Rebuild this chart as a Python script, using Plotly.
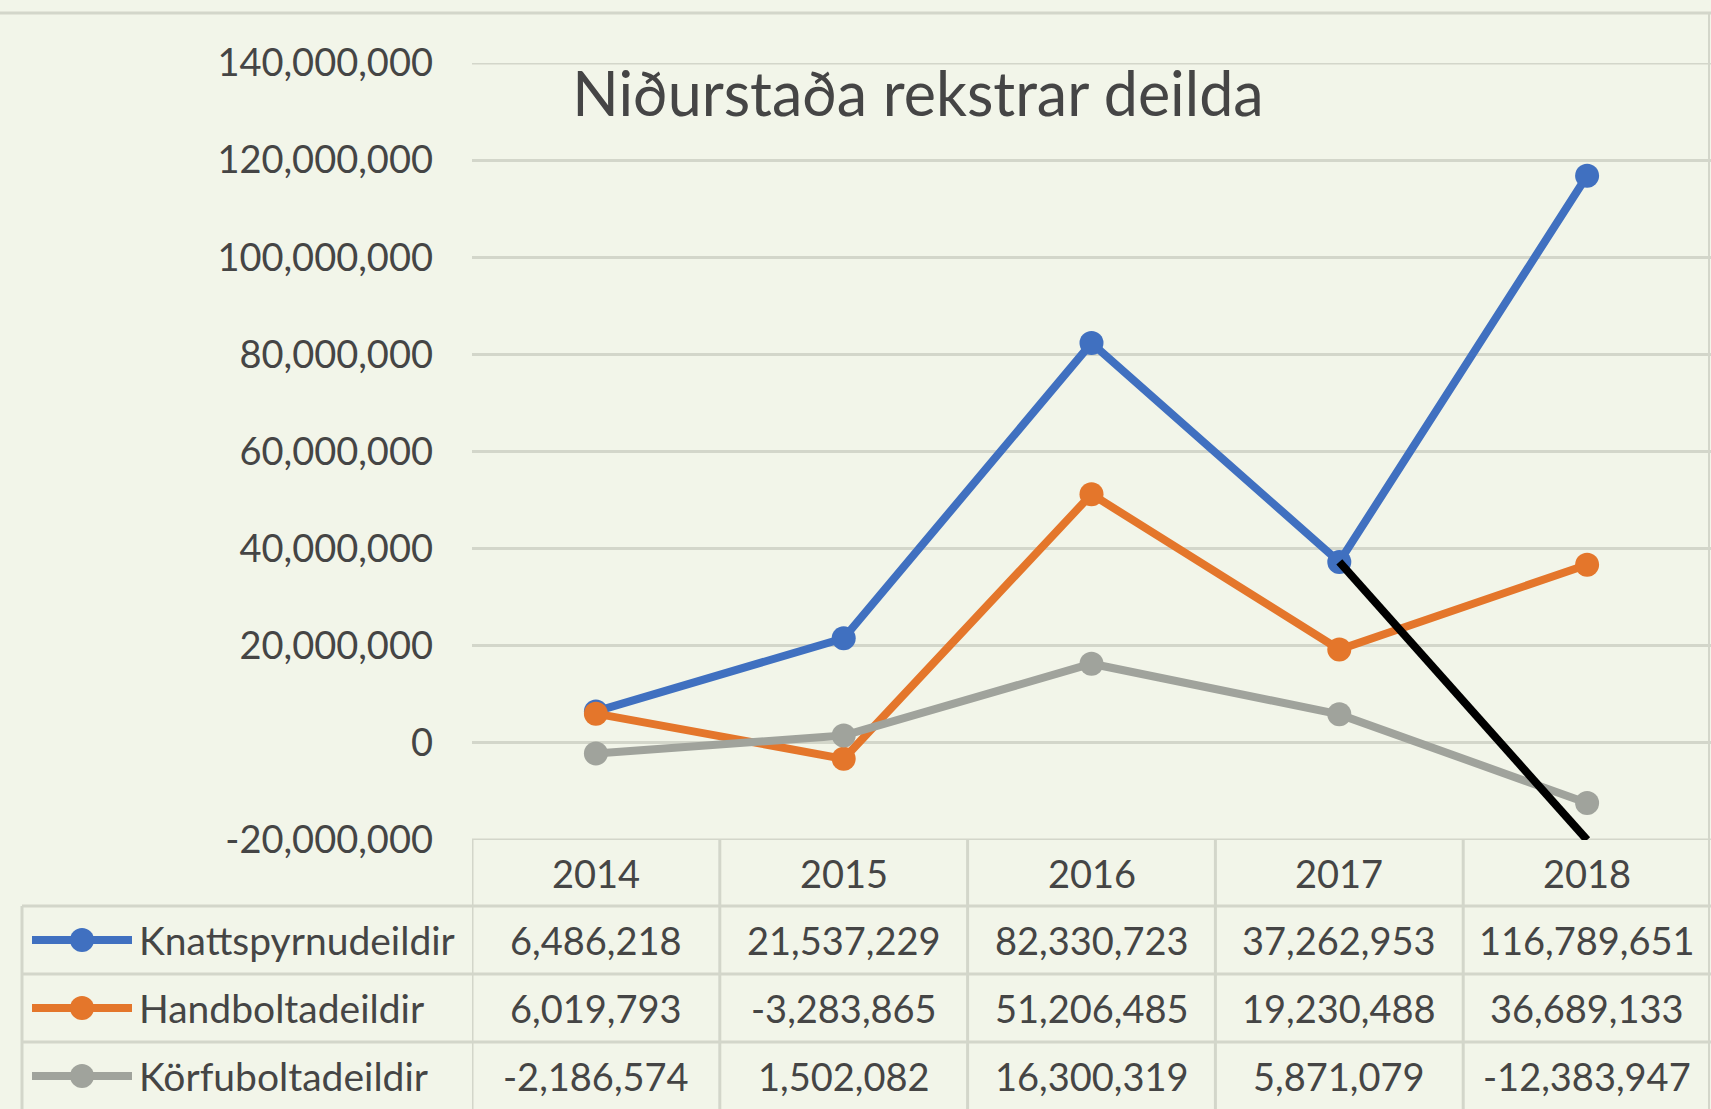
import plotly.graph_objects as go

# ---------------- data ----------------
YEARS = ["2014", "2015", "2016", "2017", "2018"]
SERIES_NAMES = ["Knattspyrnudeildir", "Handboltadeildir", "Körfuboltadeildir"]
KNATTSPYRNU = [6486218, 21537229, 82330723, 37262953, 116789651]
HANDBOLTA = [6019793, -3283865, 51206485, 19230488, 36689133]
KORFUBOLTA = [-2186574, 1502082, 16300319, 5871079, -12383947]
Y_TICKS = [-20000000, 0, 20000000, 40000000, 60000000, 80000000,
           100000000, 120000000, 140000000]
TITLE = "Niðurstaða rekstrar deilda"

SERIES_VALUES = [KNATTSPYRNU, HANDBOLTA, KORFUBOLTA]

# ---------------- styling ----------------
W, H = 1711, 1109
BG = "#F2F5E9"
GRID = "#D3D6CA"
TEXT = "#454545"
FONT = "Lato"
COLORS = ["#4070C0", "#E4762B", "#A0A39C"]

PLOT_L, PLOT_T, PLOT_B = 472, 63, 840
HEADER_Y = 873
ROW_CENTERS = [940, 1008, 1076]
ROW_LINES = [906, 974, 1042]
TABLE_LEFT = 22


def px(x):
    return x / W


def py(y):
    return 1 - y / H


fig = go.Figure()

for name, vals, col in zip(SERIES_NAMES, SERIES_VALUES, COLORS):
    fig.add_trace(go.Scatter(
        x=YEARS, y=vals, name=name, mode="lines+markers",
        line=dict(color=col, width=8),
        marker=dict(color=col, size=24, line=dict(width=0)),
        cliponaxis=False, showlegend=False,
    ))

# hand-drawn black line: from the 2017 Knattspyrnudeildir point down to axis floor at 2018
fig.add_trace(go.Scatter(
    x=[YEARS[3], YEARS[4]], y=[KNATTSPYRNU[3], Y_TICKS[0]],
    mode="lines", line=dict(color="black", width=8),
    cliponaxis=False, showlegend=False, hoverinfo="skip",
))

shapes = []
annotations = []

# top border line of the chart
shapes.append(dict(type="line", xref="paper", yref="paper",
                   x0=0, x1=1, y0=py(13), y1=py(13),
                   line=dict(color=GRID, width=3), layer="below"))
# right border
shapes.append(dict(type="line", xref="paper", yref="paper",
                   x0=px(W - 2), x1=px(W - 2), y0=py(13), y1=0,
                   line=dict(color=GRID, width=2), layer="below"))
# top gridline and table top line (= axis floor / ceiling)
for yv in (Y_TICKS[0], Y_TICKS[-1]):
    shapes.append(dict(type="line", xref="x", yref="y",
                       x0=-0.5, x1=len(YEARS) - 0.5, y0=yv, y1=yv,
                       line=dict(color=GRID, width=3), layer="below"))
# table row lines
for yl in ROW_LINES:
    shapes.append(dict(type="line", xref="paper", yref="paper",
                       x0=px(TABLE_LEFT), x1=1, y0=py(yl), y1=py(yl),
                       line=dict(color=GRID, width=3)))
# vertical column separators at category boundaries
for i in range(len(YEARS)):
    shapes.append(dict(type="line", xref="x", yref="paper",
                       x0=i - 0.5, x1=i - 0.5, y0=py(PLOT_B), y1=0,
                       line=dict(color=GRID, width=3)))
# table left border
shapes.append(dict(type="line", xref="paper", yref="paper",
                   x0=px(TABLE_LEFT), x1=px(TABLE_LEFT), y0=py(ROW_LINES[0]), y1=0,
                   line=dict(color=GRID, width=3)))

# header years
for i, yr in enumerate(YEARS):
    annotations.append(dict(x=i, xref="x", y=py(HEADER_Y), yref="paper",
                            text=yr, showarrow=False, xanchor="center",
                            yanchor="middle",
                            font=dict(family=FONT, size=38, color=TEXT)))

# rows
for r, (name, vals, col) in enumerate(zip(SERIES_NAMES, SERIES_VALUES, COLORS)):
    yc = ROW_CENTERS[r]
    # legend key
    shapes.append(dict(type="line", xref="paper", yref="paper",
                       x0=px(32), x1=px(132), y0=py(yc), y1=py(yc),
                       line=dict(color=col, width=8)))
    shapes.append(dict(type="circle", xref="paper", yref="paper",
                       x0=px(82 - 12), x1=px(82 + 12), y0=py(yc + 12), y1=py(yc - 12),
                       fillcolor=col, line=dict(width=0)))
    annotations.append(dict(x=px(137), xref="paper", y=py(yc), yref="paper",
                            text=name, showarrow=False, xanchor="left",
                            yanchor="middle",
                            font=dict(family=FONT, size=39, color=TEXT)))
    for i, v in enumerate(vals):
        annotations.append(dict(x=i, xref="x", y=py(yc), yref="paper",
                                text=f"{v:,}", showarrow=False, xanchor="center",
                                yanchor="middle",
                                font=dict(family=FONT, size=38, color=TEXT)))

fig.update_layout(
    width=W, height=H,
    margin=dict(l=0, r=0, t=0, b=0, autoexpand=False),
    paper_bgcolor=BG, plot_bgcolor=BG,
    title=dict(text=TITLE, x=px(918), xref="paper", xanchor="center",
               y=py(95), yref="paper", yanchor="middle",
               font=dict(family=FONT, size=61, color=TEXT)),
    xaxis=dict(type="category", domain=[px(PLOT_L), 1],
               range=[-0.5, len(YEARS) - 0.5], automargin=False,
               showgrid=False, showticklabels=False, zeroline=False,
               showline=False, ticks=""),
    yaxis=dict(domain=[py(PLOT_B), py(PLOT_T)],
               range=[Y_TICKS[0], Y_TICKS[-1]], automargin=False,
               tickmode="array", tickvals=Y_TICKS,
               ticktext=[f"{v:,}" for v in Y_TICKS],
               showgrid=True, gridcolor=GRID, gridwidth=3,
               zeroline=False, showline=False, ticks="",
               ticklabelstandoff=38,
               tickfont=dict(family=FONT, size=38, color=TEXT)),
    shapes=shapes,
    annotations=annotations,
    hovermode=False,
)

fig.write_html("out.html", config={"displayModeBar": False},
               post_script="document.body.style.margin='0';")
